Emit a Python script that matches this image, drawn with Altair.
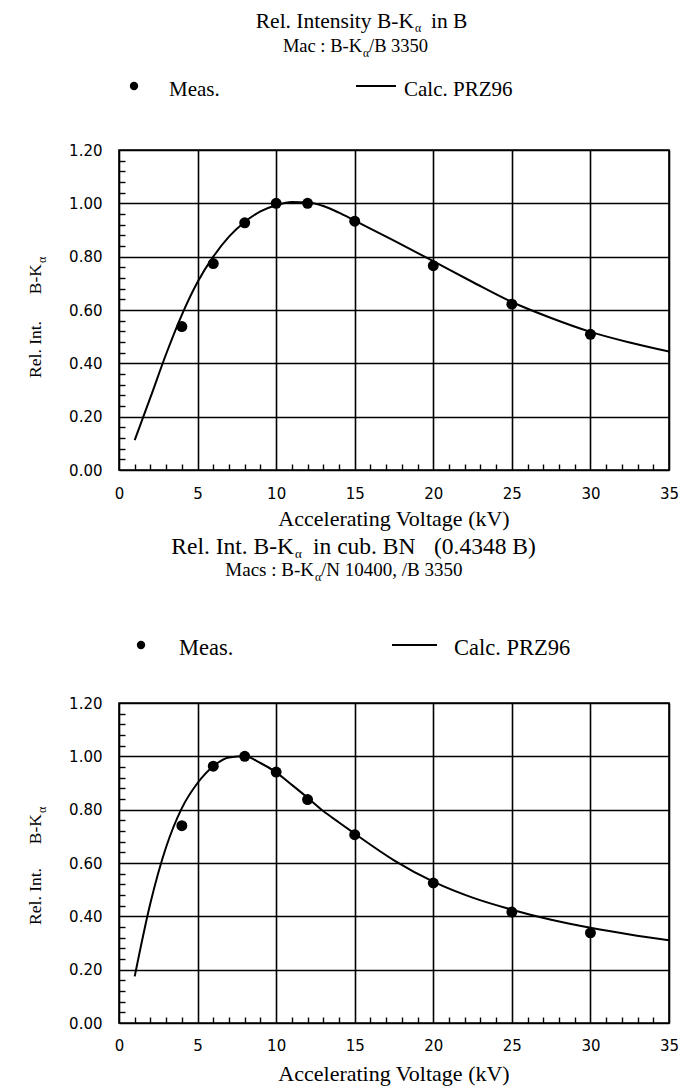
import altair as alt
import pandas as pd

# ---------------- data ----------------
meas_kv = [4, 6, 8, 10, 12, 15, 20, 25, 30]
meas_b = [0.538, 0.774, 0.927, 1.000, 1.000, 0.933, 0.766, 0.622, 0.509]
meas_bn = [0.740, 0.963, 1.000, 0.941, 0.838, 0.706, 0.525, 0.416, 0.338]

calc_kv = [1, 2, 3, 4, 5, 6, 7, 8, 9, 10, 11, 12, 13, 14, 15, 17.5, 20, 22.5, 25, 27.5, 30, 32.5, 35]
calc_b = [0.112, 0.272, 0.435, 0.582, 0.705, 0.800, 0.875, 0.930, 0.970, 0.993, 1.005, 1.003, 0.990,
          0.965, 0.935, 0.860, 0.783, 0.705, 0.630, 0.570, 0.518, 0.478, 0.444]
calc_bn = [0.175, 0.450, 0.660, 0.806, 0.900, 0.963, 0.996, 1.000, 0.975, 0.940, 0.893, 0.845, 0.795,
           0.752, 0.710, 0.610, 0.530, 0.470, 0.425, 0.387, 0.357, 0.332, 0.310]

x_major = [0, 5, 10, 15, 20, 25, 30, 35]
x_minor = [i for i in range(1, 35) if i % 5 != 0]
y_major = [0.0, 0.2, 0.4, 0.6, 0.8, 1.0, 1.2]
y_minor = [round(0.04 * i, 2) for i in range(1, 30) if i % 5 != 0]

SERIF = "Liberation Serif"
SANS = "DejaVu Sans"
W, H = 550, 320
ONE = pd.DataFrame({"a": [0]})


def txt(text, x, y, size, align="left", angle=0, font=SERIF):
    return alt.Chart(ONE).mark_text(
        text=text, align=align, baseline="alphabetic", font=font,
        fontSize=size, angle=angle, color="black"
    ).encode(x=alt.value(x), y=alt.value(y))


def panel(meas_vals, calc_vals, s):
    xs = alt.Scale(domain=[0, 35], nice=False, zero=False)
    ys = alt.Scale(domain=[0, 1.2], nice=False, zero=False)
    x_main = alt.Axis(values=x_major, grid=True, ticks=False, domain=False, title=None,
                      format="d", labelFlush=False, labelPadding=s["xlabpad"],
                      labelFont=SANS, labelFontSize=15, labelColor="black",
                      gridColor="black", gridWidth=1.6, gridOpacity=1)
    y_main = alt.Axis(values=y_major, grid=True, ticks=False, domain=False, title=None,
                      format=".2f", labelPadding=17, labelFont=SANS, labelFontSize=15,
                      labelColor="black", gridColor="black", gridWidth=1.6, gridOpacity=1)
    x_min = alt.Axis(orient="top", offset=-H, values=x_minor, labels=False, grid=False,
                     domain=False, ticks=True, tickSize=6, tickWidth=1.4, tickColor="black",
                     title=None)
    y_min = alt.Axis(orient="right", offset=-W, values=y_minor, labels=False, grid=False,
                     domain=False, ticks=True, tickSize=6, tickWidth=1.4, tickColor="black",
                     title=None)

    calc_df = pd.DataFrame({"kv": calc_kv, "v": calc_vals})
    meas_df = pd.DataFrame({"kv": meas_kv, "v": meas_vals})

    line = alt.Chart(calc_df).mark_line(color="black", strokeWidth=2, interpolate="monotone").encode(
        x=alt.X("kv:Q", scale=xs, axis=x_main),
        y=alt.Y("v:Q", scale=ys, axis=y_main),
    )
    pts = alt.Chart(meas_df).mark_circle(color="black", opacity=1, size=120).encode(
        x=alt.X("kv:Q", scale=xs, axis=x_min),
        y=alt.Y("v:Q", scale=ys, axis=y_min),
    )

    layers = [line, pts]
    # title: head right-aligned at end of "K", subscript alpha, then tail pieces
    t = s["title"]
    layers.append(txt(t["head"], t["k_end"], t["y"], t["size"], align="right"))
    layers.append(txt("\u03b1", t["k_end"] + 1, t["y"] + 4, t["size"] * 0.55))
    for piece, px in t["tail"]:
        layers.append(txt(piece, px, t["y"], t["size"]))
    # subtitle
    st = s["sub"]
    layers.append(txt(st["head"], st["k_end"], st["y"], st["size"], align="right"))
    layers.append(txt("\u03b1", st["k_end"] + 1, st["y"] + 5, st["size"] * 0.62))
    layers.append(txt(st["tail"], st["tail_x"], st["y"], st["size"]))
    # legend
    lg = s["legend"]
    layers.append(alt.Chart(ONE).mark_circle(color="black", opacity=1, size=70).encode(
        x=alt.value(lg["dot_x"]), y=alt.value(lg["y"])))
    layers.append(txt("Meas.", lg["meas_x"], lg["y"] + 10, lg["size"]))
    layers.append(alt.Chart(ONE).mark_rule(color="black", strokeWidth=2).encode(
        x=alt.value(lg["line_x0"]), x2=alt.value(lg["line_x1"]), y=alt.value(lg["y"])))
    layers.append(txt("Calc. PRZ96", lg["calc_x"], lg["y"] + 10, lg["size"]))
    # x axis title
    layers.append(txt("Accelerating Voltage (kV)", W / 2, H + s["xtitle_dy"], 22, align="center"))
    # y axis title (rotated)
    yt = s["ytitle"]
    layers.append(txt("B-K", yt["x"], yt["k_end"], 17.5, align="right", angle=270))
    layers.append(txt("Rel. Int.", yt["x"], yt["int_end"], 17.5, align="right", angle=270))
    layers.append(txt("\u03b1", yt["x"] + 5, yt["k_end"] - 1, 12, align="left", angle=270))

    return alt.layer(*layers).resolve_axis(x="independent", y="independent").properties(
        width=W, height=H)


top_spec = {
    "xlabpad": 16,
    "title": {"head": "Rel. Intensity B-K", "k_end": 295, "y": -122, "size": 21.5,
              "tail": [("in B", 312)]},
    "sub": {"head": "Mac : B-K", "k_end": 243, "y": -98, "size": 18.5,
            "tail": "/B 3350", "tail_x": 250},
    "legend": {"dot_x": 15, "y": -64, "meas_x": 50, "line_x0": 237, "line_x1": 277,
               "calc_x": 285, "size": 21},
    "xtitle_dy": 56,
    "ytitle": {"x": -78, "k_end": 114, "int_end": 171},
}
bottom_spec = {
    "xlabpad": 15,
    "title": {"head": "Rel. Int. B-K", "k_end": 175, "y": -149, "size": 23.5,
              "tail": [("in cub. BN", 194), ("(0.4348 B)", 315)]},
    "sub": {"head": "Macs : B-K", "k_end": 195, "y": -127, "size": 19,
            "tail": "/N 10400, /B 3350", "tail_x": 202},
    "legend": {"dot_x": 22, "y": -58, "meas_x": 60, "line_x0": 273, "line_x1": 318,
               "calc_x": 335, "size": 22.5},
    "xtitle_dy": 58,
    "ytitle": {"x": -78, "k_end": 111, "int_end": 165},
}

top = panel(meas_b, calc_b, top_spec)
bottom = panel(meas_bn, calc_bn, bottom_spec)

chart = alt.vconcat(top, bottom, spacing=233, bounds="flush").configure(
    padding={"left": 26, "top": 10, "right": 5, "bottom": 5},
    background="white",
).configure_view(stroke="black", strokeWidth=1.6)

chart.save("out.html", embed_options={"renderer": "svg", "actions": False})
